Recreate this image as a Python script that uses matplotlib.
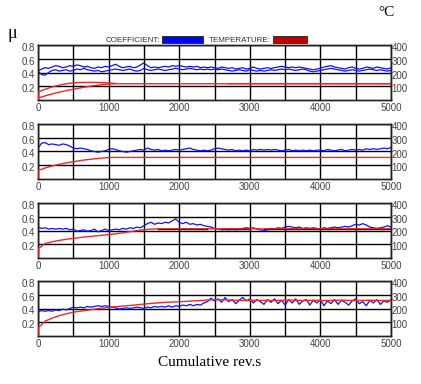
import matplotlib
matplotlib.use("Agg")
import matplotlib.pyplot as plt
import matplotlib.transforms as mtransforms
from matplotlib.patches import Rectangle
import numpy as np

nan = np.nan

# friction coefficient sampled every 50 revolutions (0..5000)
REVS_COEF = list(range(0, 5001, 50))
# temperature sampled every 100 revolutions (0..5000)
REVS_TEMP = list(range(0, 5001, 100))

COEF_1A = [0.42, 0.45, 0.47, 0.46, 0.48, 0.50, 0.49, 0.47, 0.48, 0.50,
           0.49, 0.51, 0.50, 0.48, 0.49, 0.47, 0.46, 0.48, 0.47, 0.49,
           0.48, 0.50, 0.52, 0.49, 0.47, 0.48, 0.49, 0.47, 0.48, 0.51,
           0.54, 0.50, 0.47, 0.48, 0.47, 0.48, 0.49, 0.48, 0.50, 0.49,
           0.50, 0.49, 0.48, 0.49, 0.48, 0.49, 0.47, 0.48, 0.47, 0.48,
           0.47, 0.46, 0.48, 0.47, 0.46, 0.47, 0.45, 0.46, 0.47, 0.45,
           0.46, 0.48, 0.46, 0.45, 0.46, 0.47, 0.46, 0.47, 0.48, 0.49,
           0.48, 0.47, 0.48, 0.47, 0.48, 0.47, 0.46, 0.45, 0.44, 0.45,
           0.46, 0.48, 0.49, 0.50, 0.48, 0.47, 0.46, 0.45, 0.47, 0.48,
           0.46, 0.45, 0.46, 0.48, 0.47, 0.46, 0.48, 0.47, 0.46, 0.45,
           0.47]
COEF_1B = [0.42, 0.37, 0.36, 0.40, 0.43, 0.44, 0.42, 0.43, 0.44, 0.42,
           0.43, 0.45, 0.44, 0.46, 0.44, 0.43, 0.42, 0.43, 0.41, 0.42,
           0.43, 0.44, 0.45, 0.44, 0.43, 0.44, 0.45, 0.43, 0.42, 0.43,
           0.46, 0.44, 0.43, 0.44, 0.45, 0.44, 0.43, 0.44, 0.45, 0.46,
           0.45, 0.44, 0.45, 0.46, 0.45, 0.44, 0.45, 0.44, 0.45, 0.44,
           0.45, 0.44, 0.45, 0.44, 0.43, 0.42, 0.43, 0.44, 0.43, 0.42,
           0.44, 0.43, 0.42, 0.43, 0.42, 0.43, 0.44, 0.43, 0.44, 0.45,
           0.44, 0.45, 0.44, 0.43, 0.44, 0.45, 0.44, 0.42, 0.41, 0.42,
           0.43, 0.44, 0.45, 0.46, 0.45, 0.44, 0.43, 0.42, 0.43, 0.44,
           0.43, 0.42, 0.43, 0.44, 0.45, 0.44, 0.43, 0.44, 0.43, 0.42,
           0.43]
COEF_2 = [0.45, 0.52, 0.53, 0.50, 0.51, 0.50, 0.49, 0.51, 0.50, 0.48,
          0.45, 0.44, 0.45, 0.44, 0.43, 0.41, 0.40, 0.39, 0.40, 0.41,
          0.43, 0.44, 0.43, 0.41, 0.40, 0.39, 0.40, 0.41, 0.42, 0.43,
          0.42, 0.45, 0.43, 0.42, 0.43, 0.41, 0.42, 0.41, 0.42, 0.43,
          0.42, 0.43, 0.44, 0.45, 0.43, 0.42, 0.41, 0.42, 0.41, 0.42,
          0.44, 0.45, 0.44, 0.43, 0.42, 0.43, 0.41, 0.42, 0.41, 0.42,
          0.41, 0.43, 0.42, 0.43, 0.42, 0.43, 0.42, 0.43, 0.42, 0.41,
          0.42, 0.43, 0.41, 0.42, 0.41, 0.42, 0.41, 0.42, 0.41, 0.42,
          0.42, 0.41, 0.43, 0.42, 0.41, 0.42, 0.43, 0.41, 0.42, 0.43,
          0.42, 0.43, 0.42, 0.44, 0.43, 0.44, 0.43, 0.44, 0.45, 0.44,
          0.46]
COEF_3 = [0.45, 0.43, 0.44, 0.42, 0.43, 0.42, 0.43, 0.42, 0.43, 0.41,
          0.42, 0.39, 0.40, 0.41, 0.39, 0.40, 0.42, 0.38, 0.40, 0.42,
          0.40, 0.41, 0.42, 0.41, 0.43, 0.42, 0.44, 0.43, 0.45, 0.44,
          0.47, 0.50, 0.52, 0.49, 0.51, 0.50, 0.52, 0.51, 0.54, 0.57,
          0.52, 0.50, 0.52, 0.49, 0.50, 0.48, 0.49, 0.47, 0.46, 0.45,
          0.43, 0.42, 0.41, 0.42, 0.41, 0.42, 0.41, 0.42, 0.43, 0.44,
          0.43, 0.44, 0.42, 0.41, 0.40, 0.41, 0.43, 0.42, 0.44, 0.43,
          0.45, 0.46, 0.45, 0.44, 0.45, 0.43, 0.44, 0.43, 0.44, 0.43,
          0.42, 0.44, 0.43, 0.44, 0.45, 0.44, 0.45, 0.46, 0.45, 0.47,
          0.49, 0.48, 0.50, 0.48, 0.45, 0.44, 0.43, 0.44, 0.45, 0.47,
          0.45]
COEF_4 = [0.35, 0.37, 0.36, 0.37, 0.36, 0.38, 0.37, 0.39, 0.38, 0.40,
          0.42, 0.41, 0.42, 0.41, 0.43, 0.42, 0.43, 0.44, 0.43, 0.44,
          0.43, 0.42, 0.41, 0.39, 0.40, 0.41, 0.40, 0.41, 0.42, 0.41,
          0.40, 0.42, 0.41, 0.43, 0.42, 0.43, 0.42, 0.44, 0.42, 0.44,
          0.43, 0.45, 0.44, 0.46, 0.44, 0.46, 0.45, 0.48, 0.50, 0.55,
          0.51, 0.54, 0.49, 0.56, 0.50, 0.53, 0.47, 0.52, 0.56, 0.51,
          0.54, 0.48, 0.53, 0.50, 0.46, 0.53, 0.49, 0.54, 0.47, 0.52,
          0.45, 0.53, 0.48, 0.54, 0.46, 0.51, 0.53, 0.45, 0.52, 0.48,
          0.53, 0.44, 0.51, 0.47, 0.53, 0.46, 0.52, 0.49, 0.45, 0.51,
          0.54, 0.47, 0.50, 0.44, 0.52, 0.48, 0.53, 0.46, 0.51, 0.49,
          0.53]

TEMP_1A = [58, 78, 95, 108, 118, 125, 128, 128, 128, 127,
           124, 120, nan, nan, nan, nan, nan, nan, nan, nan,
           nan, nan, nan, nan, nan, nan, nan, 119, 119, 119,
           119, 119, 119, 119, 119, 119, 119, 119, 119, 119,
           119, 119, 119, 119, 119, 119, 119, 119, 119, 119,
           119]
TEMP_1B = [14, 30, 44, 57, 68, 78, 88, 97, 105, 111,
           116, 118, 118, 118, 118, 118, 118, 118, 118, 118,
           118, 118, 118, 118, 118, 118, 118, 118, 118, 118,
           118, 118, 118, 118, 118, 118, 118, 118, 118, 118,
           118, 118, 118, 118, 118, 118, 118, 118, 118, 118,
           118]
TEMP_2 = [62, 80, 95, 107, 117, 126, 134, 141, 147, 152,
          156, 157, 157, 157, 157, 157, 157, 157, 157, 157,
          157, 157, 157, 157, 157, 157, 157, 157, 157, 157,
          157, 157, 157, 157, 157, 157, 157, 157, 157, 157,
          157, 157, 157, 157, 157, 157, 157, 157, 157, 157,
          157]
TEMP_3 = [66, 105, 118, 128, 136, 143, 149, 155, 160, 165,
          170, 176, 183, 191, 199, 206, 210, 212, 212, 212,
          212, 212, 212, 212, 212, 212, 212, 212, 212, 212,
          212, 212, 212, 212, 212, 212, 212, 212, 212, 212,
          212, 212, 212, 212, 212, 212, 212, 212, 212, 212,
          212]
TEMP_3B = [nan, nan, nan, nan, nan, nan, nan, nan, nan, nan,
           nan, nan, nan, nan, nan, nan, nan, 213, 213, 213,
           213, 213, 213, 213, 213, nan, 213, 213, 213, 213,
           213, nan, 213, 213, 213, 213, 213, 213, 213, 213,
           213, 213, 213, 213, 213, 213, 213, 213, 213, 213,
           213]
TEMP_4 = [58, 108, 130, 148, 162, 173, 181, 188, 195, 202,
          208, 213, 218, 222, 227, 232, 237, 241, 245, 247,
          249, 252, 255, 258, 262, 263, 264, 262, 260, 259,
          260, 259, 260, 258, 259, 260, 261, 259, 258, 260,
          259, 258, 260, 261, 259, 258, 259, 260, 259, 258,
          259]

PANELS = [
    ([COEF_1A, COEF_1B], [0.22, 0.42], [TEMP_1A, TEMP_1B], None),
    ([COEF_2], [0.22], [TEMP_2], None),
    ([COEF_3], [0.22], [TEMP_3], TEMP_3B),
    ([COEF_4], [0.30], [TEMP_4], None),
]

BLUE = "#1010ff"
RED = "#f02828"
DARK_RED = "#8a0000"
LABEL_COLOR = "#444444"

W, H = 421, 384
fig = plt.figure(figsize=(W / 100, H / 100), dpi=100)

tops = [45, 124, 203, 281]
panel_h = 55
left, right = 38, 391

for (coefs, starts, temps, overlay), top in zip(PANELS, tops):
    ax = fig.add_axes([left / W, 1 - (top + panel_h) / H,
                       (right - left) / W, panel_h / H])
    axt = ax.twinx()

    for series, start in zip(coefs, starts):
        ax.plot([0] + REVS_COEF, [start] + series, color=BLUE, lw=0.9, zorder=3)
    for series in temps:
        axt.plot([0] + REVS_TEMP, [0] + series, color=RED, lw=1.0, zorder=3)
    if overlay is not None:
        axt.plot(REVS_TEMP, overlay, color=DARK_RED, lw=1.0, zorder=4)

    ax.set_xlim(0, 5000)
    ax.set_ylim(0, 0.8)
    axt.set_ylim(0, 400)

    ax.set_xticks(range(0, 5001, 500))
    ax.set_xticklabels([str(v) if v % 1000 == 0 else "" for v in range(0, 5001, 500)])
    ax.set_yticks([0.2, 0.4, 0.6, 0.8])
    ax.set_yticklabels(["0.2", "0.4", "0.6", "0.8"])
    axt.set_yticks([100, 200, 300, 400])
    axt.set_yticklabels(["100", "200", "300", "400"])

    ax.grid(True, color="black", lw=1.0)
    ax.set_axisbelow(True)
    for a in (ax, axt):
        a.tick_params(length=0, labelsize=7, labelcolor=LABEL_COLOR)
        for sp in a.spines.values():
            sp.set_color("#222222")
            sp.set_linewidth(1.0)
    ax.tick_params(axis="x", pad=2)
    ax.tick_params(axis="y", pad=2)
    axt.tick_params(axis="y", pad=0.5)

    shift = mtransforms.ScaledTranslation(0, -2 / 100, fig.dpi_scale_trans)
    for lab in ax.get_yticklabels() + axt.get_yticklabels():
        lab.set_transform(lab.get_transform() + shift)
        lab.set_fontfamily("Liberation Sans")
    for lab in ax.get_xticklabels():
        lab.set_fontfamily("Liberation Sans")

# legend strip above the first panel
fig.text(160 / W, 1 - 40 / H, "COEFFICIENT:", ha="right", va="center",
         fontsize=5.8, family="Liberation Sans", color="#333333")
fig.patches.append(Rectangle((162 / W, 1 - 43 / H), 41 / W, 7 / H,
                             transform=fig.transFigure, facecolor="#0000ff",
                             edgecolor="#222222", lw=0.6))
fig.text(271 / W, 1 - 40 / H, "TEMPERATURE:", ha="right", va="center",
         fontsize=5.8, family="Liberation Sans", color="#333333")
fig.patches.append(Rectangle((273 / W, 1 - 43 / H), 34 / W, 7 / H,
                             transform=fig.transFigure, facecolor="#c00000",
                             edgecolor="#222222", lw=0.6))

fig.text(12 / W, 1 - 33 / H, "\u03bc", ha="center", va="center",
         fontsize=13, family="Liberation Serif")
fig.text(386 / W, 1 - 12 / H, "\u00b0C", ha="center", va="center",
         fontsize=11, family="Liberation Serif")
fig.text(210 / W, 1 - 362 / H, "Cumulative rev.s", ha="center", va="center",
         fontsize=11, family="Liberation Serif")

fig.savefig("out.png", dpi=100, facecolor="white")
